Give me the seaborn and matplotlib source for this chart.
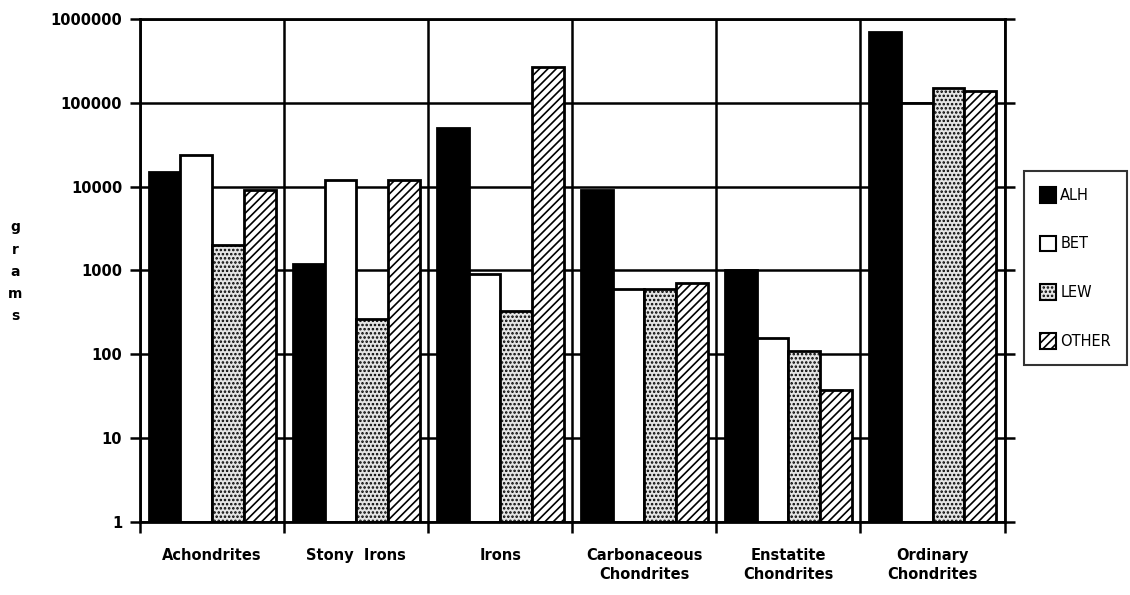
import pandas as pd
import numpy as np
import seaborn as sns
import matplotlib.pyplot as plt
from matplotlib.patches import Patch
from matplotlib.ticker import FixedLocator, FixedFormatter, NullFormatter

# data (grams, log scale)
categories = ["Achondrites", "Stony  Irons", "Irons", "Carbonaceous\nChondrites",
              "Enstatite\nChondrites", "Ordinary\nChondrites"]
series = ["ALH", "BET", "LEW", "OTHER"]
alh = [15000, 1200, 50000, 9000, 1000, 700000]
bet = [24000, 12000, 900, 600, 155, 100000]
lew = [2000, 260, 330, 600, 110, 150000]
other = [9000, 12000, 270000, 700, 37, 140000]
ytick_vals = [1, 10, 100, 1000, 10000, 100000, 1000000]
ytick_labels = ["1", "10", "100", "1000", "10000", "100000", "1000000"]

df = pd.DataFrame({
    "cat": categories * 4,
    "series": sum([[s] * len(categories) for s in series], []),
    "grams": alh + bet + lew + other,
})

sns.set_style("white")
plt.rcParams['font.family'] = ['DejaVu Sans']
plt.rcParams['font.weight'] = 'bold'
plt.rcParams['text.color'] = 'black'
plt.rcParams['xtick.color'] = 'black'
plt.rcParams['ytick.color'] = 'black'
plt.rcParams['hatch.linewidth'] = 1.2

fig = plt.figure(figsize=(11.3, 5.95), dpi=100)
ax = fig.add_axes([0.124, 0.123, 0.765, 0.845])
ax.set_yscale("log")

sns.barplot(data=df, x="cat", y="grams", hue="series", hue_order=series,
            order=categories, palette=["black"] * 4, width=0.88,
            ax=ax, legend=False, zorder=2)

styles = {
    "ALH": dict(facecolor="black", hatch=None),
    "BET": dict(facecolor="white", hatch=None),
    "LEW": dict(facecolor="#e4e4e4", hatch="...."),
    "OTHER": dict(facecolor="white", hatch="////"),
}
for s, cont in zip(series, ax.containers):
    for bar in cont:
        # bars start at the bottom of the log axis (1 gram)
        top = max(bar.get_y(), bar.get_y() + bar.get_height())
        bar.set_y(1)
        bar.set_height(top - 1)
        bar.set_facecolor(styles[s]["facecolor"])
        bar.set_edgecolor("black")
        bar.set_linewidth(2)
        if styles[s]["hatch"]:
            bar.set_hatch(styles[s]["hatch"])

ax.set_ylim(1, 1000000)
ax.set_xlim(-0.5, len(categories) - 0.5)
ax.yaxis.set_major_locator(FixedLocator(ytick_vals))
ax.yaxis.set_major_formatter(FixedFormatter(ytick_labels))
ax.yaxis.set_minor_locator(FixedLocator([]))
ax.xaxis.set_minor_locator(FixedLocator(np.arange(-0.5, len(categories), 1.0)))
ax.xaxis.set_minor_formatter(NullFormatter())

ax.grid(True, axis="y", which="major", color="black", linewidth=1.8, zorder=0)
ax.grid(True, axis="x", which="minor", color="black", linewidth=1.8, zorder=0)
ax.set_axisbelow(True)
for sp in ax.spines.values():
    sp.set_color("black")
    sp.set_linewidth(2)

ax.tick_params(axis="y", which="major", direction="out", length=7, width=1.8,
               labelsize=10.5, pad=6, left=True, right=True, labelcolor="black")
ax.tick_params(axis="x", which="major", length=0, labelsize=10.5, pad=19, labelcolor="black")
ax.tick_params(axis="x", which="minor", direction="out", length=8, width=1.8, bottom=True)
for lab in ax.get_xticklabels():
    lab.set_fontweight("bold")
    lab.set_linespacing(1.35)
for lab in ax.get_yticklabels():
    lab.set_fontweight("bold")
ax.set_xlabel("")
ax.set_ylabel("")

fig.text(0.0135, 0.543, "g\nr\na\nm\ns", ha="center", va="center",
         fontsize=10, fontweight="bold", linespacing=1.75, color="black")

handles = [Patch(facecolor=styles[s]["facecolor"], edgecolor="black",
                 hatch=styles[s]["hatch"], linewidth=1.5) for s in series]
leg = fig.legend(handles, series, loc="upper left", bbox_to_anchor=(0.906, 0.713),
                 frameon=True, fancybox=False, edgecolor="black",
                 prop={"weight": "normal", "size": 10.5}, labelcolor="black",
                 handlelength=1.1, handleheight=1.3, handletextpad=0.3,
                 labelspacing=2.25, borderpad=1.1, borderaxespad=0)
leg.get_frame().set_linewidth(1.5)

plt.savefig("out.png", dpi=100)
